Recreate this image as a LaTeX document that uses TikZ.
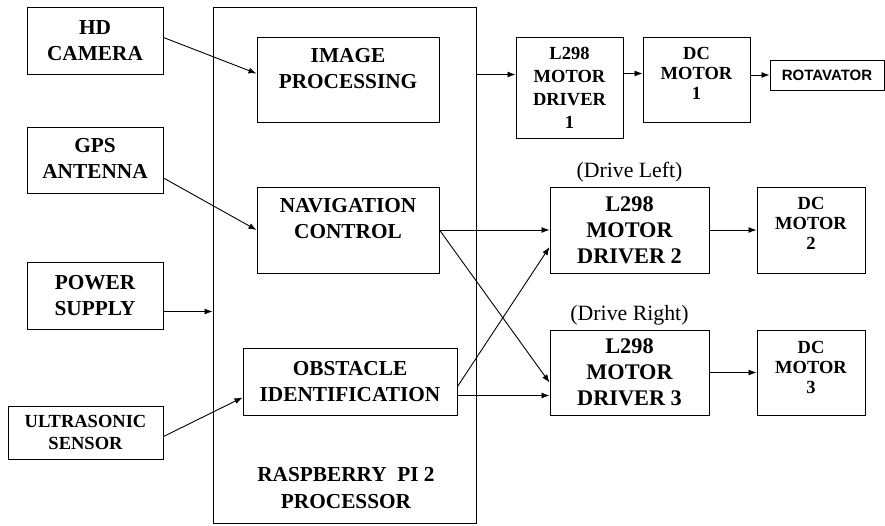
\documentclass[tikz,border=0pt]{standalone}
\usepackage{fontspec}
\setmainfont{Liberation Serif}
\newfontfamily\rotfont{Liberation Sans}
\usetikzlibrary{positioning, arrows.meta}

\tikzset{
	blk/.style = {draw, line width=1pt, align=center, inner sep=0pt,
		font=\bfseries\fontsize{21.3}{26}\selectfont},
	motor/.style = {blk, font=\bfseries\fontsize{18.5}{20}\selectfont},
	drv/.style = {blk, font=\bfseries\fontsize{22.3}{26}\selectfont},
	side/.style = {font=\fontsize{21.8}{26}\selectfont, inner sep=0pt}
}

\begin{document}
\begin{tikzpicture}[x=1pt, y=-1pt]
			\useasboundingbox (0,0) rectangle (885,525);

			% inputs
			\node [blk, minimum width=136, minimum height=67] (hdcam) at (95,40.5) {HD\\CAMERA};
			\node [blk, minimum width=136, minimum height=66, text depth=3pt] (gps) at (95,160) {GPS\\ANTENNA};
			\node [blk, minimum width=136, minimum height=67] (power) at (95,295.5) {POWER\\SUPPLY};
			\node [blk, minimum width=155, minimum height=53, font=\bfseries\fontsize{18.5}{22}\selectfont] (usonic) at (85.5,432.5) {ULTRASONIC\\SENSOR};

			% processor
			\node [blk, minimum width=263, minimum height=516] (rpi) at (344.5,265) {};
			\node [blk, minimum width=182, minimum height=85, text depth=22pt] (improc) at (348,79.5) {IMAGE\\PROCESSING};
			\node [blk, minimum width=182, minimum height=86, text depth=23pt] (nav) at (348,230) {NAVIGATION\\CONTROL};
			\node [blk, minimum width=214, minimum height=67] (obst) at (350,381.5) {OBSTACLE\\IDENTIFICATION};
			\node [align=center, inner sep=0pt, font=\bfseries\fontsize{21.3}{27}\selectfont] (rpitext) at (346,488) {RASPBERRY~~PI 2\\PROCESSOR};

			% outputs
			\node [motor, minimum width=107, minimum height=101, font=\bfseries\fontsize{18.5}{23}\selectfont] (drv1) at (569.5,87.5) {L298\\MOTOR\\DRIVER\\1};
			\node [motor, minimum width=107, minimum height=85, text depth=13pt] (dcm1) at (696.5,79.5) {DC\\MOTOR\\1};
			\node [blk, minimum width=114, minimum height=30, font=\rotfont\bfseries\fontsize{15}{16}\selectfont] (rot) at (827,75) {ROTAVATOR};
			\node [drv, minimum width=159, minimum height=86] (drv2) at (629.5,230) {L298\\MOTOR\\DRIVER 2};
			\node [motor, minimum width=108, minimum height=86, text depth=14pt] (dcm2) at (811,230) {DC\\MOTOR\\2};
			\node [drv, minimum width=159, minimum height=85] (drv3) at (629.5,372.5) {L298\\MOTOR\\DRIVER 3};
			\node [motor, minimum width=108, minimum height=85, text depth=11pt] (dcm3) at (811,372.5) {DC\\MOTOR\\3};
			\node [side, above=4pt of drv2] (left) {(Drive Left)};
			\node [side, above=4pt of drv3] (right) {(Drive Right)};

			\begin{scope}[line width=0.9pt, -{Latex[length=8pt,width=6pt]}]
				\draw ([yshift=3pt]hdcam.east) -- ([yshift=6pt]improc.west);
				\draw ([yshift=-18pt]gps.east) -- (nav.west);
				\draw ([yshift=-16pt]power.east) coordinate (pw) -- (pw -| rpi.west);
				\draw ([yshift=-4pt]usonic.east) -- ([yshift=-16pt]obst.west);

				\draw ([yshift=13pt]drv1.west) coordinate (d1) (d1 -| rpi.east) -- (d1);
				\draw ([yshift=6pt]dcm1.west) coordinate (m1) (m1 -| drv1.east) -- (m1);
				\draw (rot.west -| dcm1.east) -- (rot.west);

				\draw (nav.east) -- (drv2.west);
				\draw (nav.east) -- ([yshift=-10pt]drv3.west);
				\draw ([yshift=-5pt]obst.east) -- ([yshift=-17pt]drv2.west);
				\draw ([yshift=-14pt]obst.east) coordinate (o3) -- (o3 -| drv3.west);

				\draw (drv2.east) -- (dcm2.west);
				\draw (drv3.east) -- (dcm3.west);
			\end{scope}
		\end{tikzpicture}
\end{document}
